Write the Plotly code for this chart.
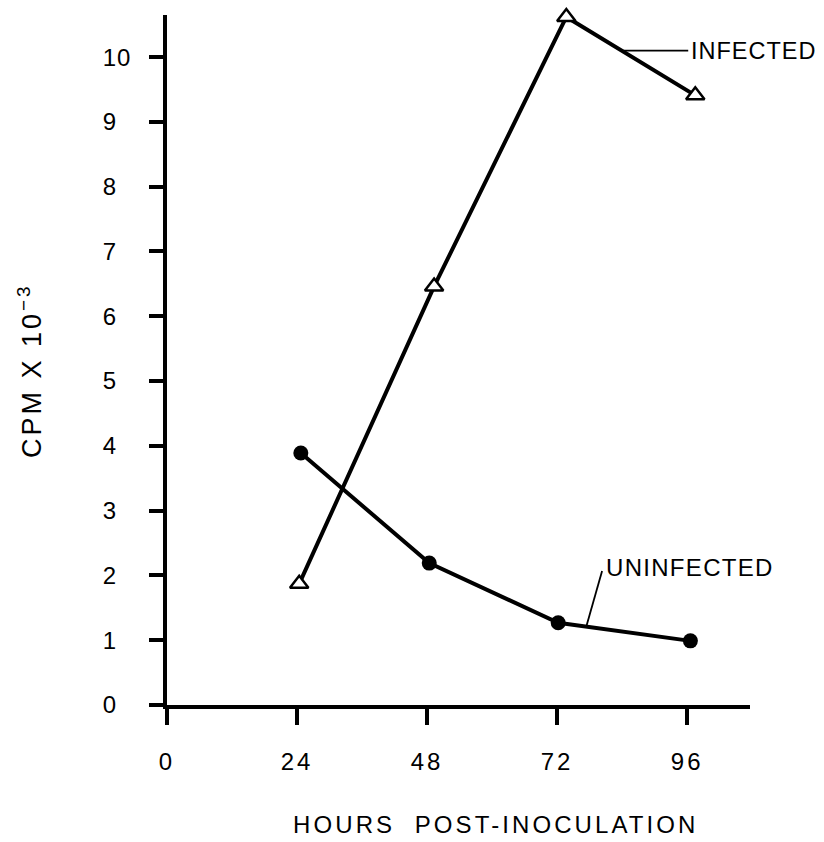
import plotly.graph_objects as go

# Data
infected_hours = [24.4, 49.3, 73.7, 97.5]
infected_cpm = [1.87, 6.46, 10.62, 9.41]
uninfected_hours = [24.7, 48.4, 72.2, 96.6]
uninfected_cpm = [3.89, 2.19, 1.27, 0.99]

x_ticks = [0, 24, 48, 72, 96]
x_labels = ["0", "24", "48", "72", "96"]
y_ticks = list(range(0, 11))
y_labels = [str(v) for v in y_ticks]

FONT = "Liberation Sans, Arial, Helvetica, sans-serif"


def spaced(txt, px):
    return '<span style="letter-spacing:%spx">%s</span>' % (px, txt)


x_ticktext = [spaced(t, 3) for t in x_labels]
y_ticktext = [spaced(t if len(t) > 1 else t + "\u2007", 1) for t in y_labels]

fig = go.Figure()
fig.add_trace(go.Scatter(
    x=uninfected_hours, y=uninfected_cpm, mode="lines+markers",
    line=dict(color="black", width=4),
    marker=dict(symbol="circle", size=15, color="black"),
    cliponaxis=False, showlegend=False))
fig.add_trace(go.Scatter(
    x=infected_hours, y=infected_cpm, mode="lines+markers",
    line=dict(color="black", width=4),
    marker=dict(symbol="triangle-up", size=16, color="white",
                line=dict(color="black", width=2.5)),
    cliponaxis=False, showlegend=False))

# leader lines for the series labels
fig.add_shape(type="line", x0=84.2, y0=10.1, x1=96.2, y1=10.1,
              line=dict(color="black", width=1.8))
fig.add_shape(type="line", x0=77.35, y0=1.2, x1=80.3, y1=2.07,
              line=dict(color="black", width=1.8))

fig.add_annotation(x=96.4, y=10.1, text=spaced("INFECTED", 1), showarrow=False,
                   xanchor="left", yanchor="middle",
                   font=dict(family=FONT, size=23.5, color="black"))
fig.add_annotation(x=80.6, y=2.13, text=spaced("UNINFECTED", 1.3), showarrow=False,
                   xanchor="left", yanchor="middle",
                   font=dict(family=FONT, size=24, color="black"))

plot_w = 824 - 167 - 74
plot_h = 842 - 15 - 137

# axis titles
fig.add_annotation(x=(496 - 167) / plot_w, y=(705 - 825) / plot_h,
                   xref="paper", yref="paper",
                   text=spaced("HOURS  POST-INOCULATION", 3.1), showarrow=False,
                   xanchor="center", yanchor="middle",
                   font=dict(family=FONT, size=24, color="black"))
fig.add_annotation(x=(30 - 167) / plot_w, y=(705 - 371) / plot_h,
                   xref="paper", yref="paper",
                   text=spaced("CPM X 10<sup>\u22123</sup>", 3), showarrow=False,
                   textangle=-90, xanchor="center", yanchor="middle",
                   font=dict(family=FONT, size=27, color="black"))

fig.update_layout(
    width=824, height=842,
    margin=dict(l=167, r=74, t=15, b=137),
    plot_bgcolor="white", paper_bgcolor="white",
    font=dict(family=FONT, size=24, color="black"),
    xaxis=dict(range=[0, 107.6], tickvals=x_ticks, ticktext=x_ticktext,
               showgrid=False, zeroline=False, showline=True,
               linecolor="black", linewidth=3.5, ticks="outside",
               ticklen=16, tickwidth=3.5, tickcolor="black",
               ticklabelstandoff=16, tickfont=dict(size=24)),
    yaxis=dict(range=[0, 10.65], tickvals=y_ticks, ticktext=y_ticktext,
               showgrid=False, zeroline=False, showline=True,
               linecolor="black", linewidth=3.5, ticks="outside",
               ticklen=14, tickwidth=3.5, tickcolor="black",
               ticklabelstandoff=13, tickfont=dict(size=24)),
)

fig.write_html("out.html")
